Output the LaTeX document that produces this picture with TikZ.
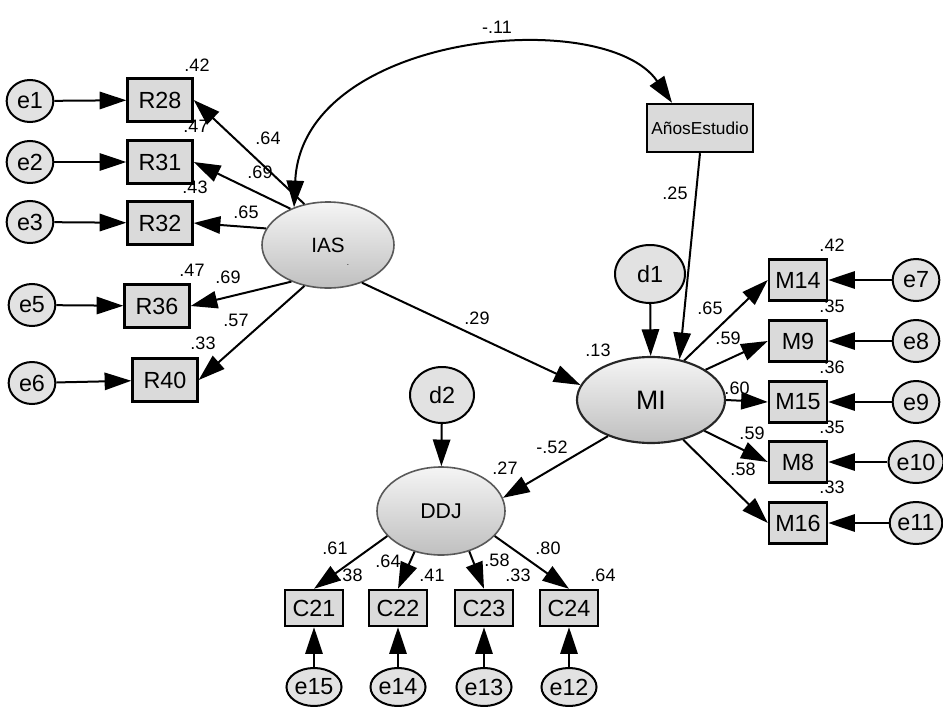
\documentclass[tikz,border=0pt]{standalone}
\usepackage{fontspec}
\setmainfont{Liberation Sans}
\setsansfont{Liberation Sans}
\usetikzlibrary{arrows.meta,shapes.geometric,calc}
\definecolor{boxgray}{RGB}{218,218,218}
\definecolor{circgray}{RGB}{226,226,226}
\begin{document}
\begin{tikzpicture}[x=0.75pt,y=-0.75pt,
  obs/.style={rectangle, draw=black, line width=1.8pt, fill=boxgray, inner sep=0pt,
     minimum width=48.75pt, minimum height=32.25pt, font=\fontsize{17.5}{17.5}\selectfont},
  mbox/.style={obs, minimum width=43.5pt, minimum height=30.75pt},
  cbox/.style={obs, minimum width=43.5pt, minimum height=27pt},
  err/.style={ellipse, draw=black, line width=1.5pt, fill=circgray, inner sep=0pt,
     minimum width=35pt, minimum height=31.5pt, font=\fontsize{17.5}{17.5}\selectfont},
  errs/.style={err, minimum width=32.25pt, minimum height=28.5pt},
  lat/.style={ellipse, draw=gray!70!black, line width=1.2pt, top color=gray!8, bottom color=gray!50,
     inner sep=0pt},
  coef/.style={inner sep=0pt, font=\fontsize{13.5}{13.5}\selectfont},
  arr/.style={line width=1.5pt, -{Triangle[length=20pt,width=13pt]}},
  darr/.style={line width=1.5pt, {Triangle[length=20pt,width=13pt]}-{Triangle[length=20pt,width=13pt]}}
]
\useasboundingbox (0,0) rectangle (943,707);

% left block
\node[err] (e1) at (30,101) {e1};
\node[err] (e2) at (30,162) {e2};
\node[err] (e3) at (30,222) {e3};
\node[err] (e5) at (32,305) {e5};
\node[err] (e6) at (32,383) {e6};
\node[obs] (R28) at (160,100) {R28};
\node[obs] (R31) at (160,162) {R31};
\node[obs] (R32) at (160,223) {R32};
\node[obs] (R36) at (157,306) {R36};
\node[obs] (R40) at (165,380) {R40};
\node[lat, minimum width=99pt, minimum height=64.5pt, font=\fontsize{15.5}{15.5}\selectfont] (IAS) at (328,245) {IAS};
\node[inner sep=0pt, font=\fontsize{6}{6}\selectfont] (dot) at (348,265) {.};

% top
\node[obs, minimum width=79.5pt, minimum height=36pt, font=\fontsize{13}{13}\selectfont] (Anos) at (700,128) {AñosEstudio};

% right block
\node[err, minimum width=52.5pt, minimum height=43.5pt] (d1) at (650,274) {d1};
\node[lat, draw=black!85, line width=1.6pt, minimum width=111pt, minimum height=64.5pt, font=\fontsize{20}{20}\selectfont] (MI) at (651,400) {MI};
\node[mbox] (M14) at (798,280) {M14};
\node[mbox] (M9)  at (798,341) {M9};
\node[mbox] (M15) at (798,402) {M15};
\node[mbox] (M8)  at (798,462) {M8};
\node[mbox] (M16) at (798,523) {M16};
\node[err] (e7)  at (916,280) {e7};
\node[err] (e8)  at (916,341) {e8};
\node[err] (e9)  at (916,402) {e9};
\node[err] (e10) at (916,462) {e10};
\node[err] (e11) at (916,523) {e11};

% bottom block
\node[err, minimum width=48pt, minimum height=42pt] (d2) at (442,395) {d2};
\node[lat, minimum width=96pt, minimum height=66pt, font=\fontsize{16}{16}\selectfont] (DDJ) at (441,511) {DDJ};
\node[cbox] (C21) at (314,608) {C21};
\node[cbox] (C22) at (398,608) {C22};
\node[cbox] (C23) at (484,608) {C23};
\node[cbox] (C24) at (569,608) {C24};
\node[errs] (e15) at (314,687) {e15};
\node[errs] (e14) at (398,687) {e14};
\node[errs] (e13) at (484,687) {e13};
\node[errs] (e12) at (569,687) {e12};

% connectors left
\draw[arr] (e1) -- (R28);
\draw[arr] (e2) -- (R31);
\draw[arr] (e3) -- (R32);
\draw[arr] (e5) -- (R36);
\draw[arr] (e6) -- (R40);
\draw[arr] (IAS.120) -- (R28.east);
\draw[arr] (IAS.136) -- (R31.east);
\draw[arr] (IAS.165) -- (R32.east);
\draw[arr] (IAS.225) -- (R36.east);
\draw[arr] (IAS.240) -- (R40.east);

% covariance arc
\draw[darr] (IAS.132) .. controls (302,32) and (605,5) .. (Anos.138);

% structural
\draw[arr] (Anos.south) -- (MI.55);
\draw[arr] (d1) -- (MI);
\draw[arr] (IAS.-48) -- (MI.168);
\draw[arr] (MI.220) -- (DDJ.12);
\draw[arr] (d2) -- (DDJ);

% right connectors
\draw[arr] (MI.50) -- (M14.west);
\draw[arr] (MI.29) -- (M9.west);
\draw[arr] (MI.0) -- (M15.west);
\draw[arr] (MI.-30) -- (M8.west);
\draw[arr] (MI.-51) -- (M16.west);
\draw[arr] (e7) -- (M14);
\draw[arr] (e8) -- (M9);
\draw[arr] (e9) -- (M15);
\draw[arr] (e10) -- (M8);
\draw[arr] (e11) -- (M16);

% bottom connectors
\draw[arr] (DDJ.205) -- (C21.north);
\draw[arr] (DDJ.237) -- (C22.north);
\draw[arr] (DDJ.305) -- (C23.north);
\draw[arr] (DDJ.335) -- (C24.north);
\draw[arr] (e15) -- (C21);
\draw[arr] (e14) -- (C22);
\draw[arr] (e13) -- (C23);
\draw[arr] (e12) -- (C24);

% coefficients
\node[coef] (l1) at (197,65) {.42};
\node[coef] (l2) at (196,126) {.47};
\node[coef] (l3) at (195,187) {.43};
\node[coef] (l4) at (192,270) {.47};
\node[coef] (l5) at (203,343) {.33};
\node[coef] (l6) at (268,138) {.64};
\node[coef] (l7) at (260,172) {.69};
\node[coef] (l8) at (246,212) {.65};
\node[coef] (l9) at (228,277) {.69};
\node[coef] (l10) at (236,320) {.57};
\node[coef] (l11) at (497,27) {-.11};
\node[coef] (l12) at (675,193) {.25};
\node[coef] (l13) at (477,318) {.29};
\node[coef] (l14) at (598,350) {.13};
\node[coef] (l15) at (832,245) {.42};
\node[coef] (l16) at (832,306) {.35};
\node[coef] (l17) at (832,367) {.36};
\node[coef] (l18) at (832,427) {.35};
\node[coef] (l19) at (832,487) {.33};
\node[coef] (l20) at (710,308) {.65};
\node[coef] (l21) at (728,338) {.59};
\node[coef] (l22) at (737,388) {.60};
\node[coef] (l23) at (752,433) {.59};
\node[coef] (l24) at (743,469) {.58};
\node[coef] (l25) at (552,447) {-.52};
\node[coef] (l26) at (505,468) {.27};
\node[coef] (l27) at (335,548) {.61};
\node[coef] (l28) at (350,575) {.38};
\node[coef] (l29) at (388,561) {.64};
\node[coef] (l30) at (432,575) {.41};
\node[coef] (l31) at (497,560) {.58};
\node[coef] (l32) at (518,575) {.33};
\node[coef] (l33) at (548,548) {.80};
\node[coef] (l34) at (603,575) {.64};
\end{tikzpicture}
\end{document}
